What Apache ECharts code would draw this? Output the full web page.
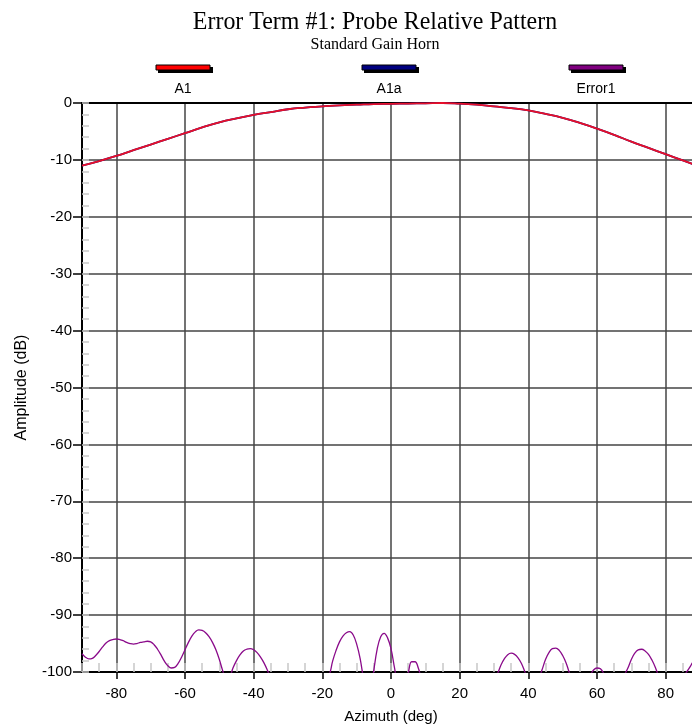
<!DOCTYPE html>
<html>
<head>
<meta charset="utf-8">
<script src="https://cdn.jsdelivr.net/npm/echarts@6/dist/echarts.min.js"></script>
<style>
  html, body { margin: 0; padding: 0; background: #fff; }
  #chart { width: 692px; height: 728px; }
</style>
</head>
<body>
<div id="chart"></div>
<script>
var seriesNames = ['A1', 'A1a', 'Error1'];

// main lobe, every 5 deg
var azA1 = [-90, -85, -80, -75, -70, -65, -60, -55, -50, -45, -40, -35, -30, -25, -20, -15, -10, -5,
  0, 5, 10, 15, 20, 25, 30, 35, 40, 45, 50, 55, 60, 65, 70, 75, 80, 85, 90];
var a1Values = [-11.0, -10.2, -9.3, -8.3, -7.3, -6.3, -5.3, -4.3, -3.4, -2.7, -2.1, -1.6, -1.1, -0.8, -0.6, -0.4, -0.3, -0.2,
  -0.15, -0.1, -0.05, 0, -0.1, -0.3, -0.6, -0.9, -1.3, -1.9, -2.6, -3.5, -4.5, -5.6, -6.8, -7.9, -9.0, -10.1, -11.2];
// A1a lies under A1 in the picture
var a1aValues = a1Values.slice();

// error term, every 1 deg from -90 to 90
var errStart = -90;
var errValues = [
  -96.8, -97.4, -97.7, -97.6, -97.1, -96.4, -95.6, -94.9, -94.5, -94.3,   // -90..-81
  -94.2, -94.3, -94.5, -94.8, -95.0, -95.1, -95.0, -94.8, -94.7, -94.6,   // -80..-71
  -94.7, -95.2, -96.0, -97.0, -98.1, -98.9, -99.3, -99.2, -98.5, -97.4,   // -70..-61
  -96.1, -94.8, -93.7, -92.95, -92.6, -92.7, -93.1, -93.8, -94.8, -96.1,  // -60..-51
  -97.8, -99.8, -101.3, -100.9, -99.25, -98.0, -97.0, -96.3, -96.0, -95.9, // -50..-41
  -96.1, -96.6, -97.4, -98.4, -99.7, -101.2, -103, -104.5, -106, -107,    // -40..-31
  -108, -108, -107.5, -107, -106.5, -106, -105.5, -105, -104, -103,       // -30..-21
  -101.8, -100.9, -100.5, -98.1, -96.2, -94.7, -93.7, -93.1, -92.9, -93.5, // -20..-11
  -95.1, -97.6, -101.2, -104, -104.5, -99.7, -95.9, -93.8, -93.2, -94.0,  // -10..-1
  -95.9, -99.2, -102.5, -104, -102, -100.2, -98.2, -98.2, -99.4, -101.5,  // 0..9
  -103, -105, -107, -108, -109, -110, -110, -110, -109.5, -109,           // 10..19
  -108, -107.5, -107, -106, -105, -104, -103.5, -103, -102.5, -101.8,     // 20..29
  -101.0, -100.3, -98.8, -97.7, -96.96, -96.7, -96.9, -97.5, -98.5, -100.0, // 30..39
  -101.5, -102.5, -102.5, -101.2, -99.6, -97.8, -96.6, -95.9, -95.8, -96.2, // 40..49
  -97.1, -98.4, -100.2, -101.5, -102.5, -103, -102.5, -101.5, -100.6, -99.65, // 50..59
  -99.3, -99.45, -100.3, -101.5, -102.5, -103, -102.5, -101.5, -100.5, -99.3, // 60..69
  -97.8, -96.7, -96.1, -96.0, -96.3, -96.9, -97.9, -99.2, -100.8, -102,   // 70..79
  -103, -103.5, -103.5, -103, -102, -101, -100.1, -99.2, -98.2, -97.5,    // 80..89
  -97.0                                                                   // 90
];

var colors = ['#e8102a', '#000080', '#8a0a8a'];
var legendColors = ['#ff0000', '#000080', '#800080'];
var legendX = [183, 389, 596];

function pairs(xs, ys) {
  return ys.map(function (v, i) { return [xs[i], v]; });
}
var errData = errValues.map(function (v, i) { return [errStart + i, v]; });

var chart = echarts.init(document.getElementById('chart'));

var graphics = [
  { type: 'text', x: 375, y: 35, scaleX: 0.92, style: { text: 'Error Term #1: Probe Relative Pattern', font: '26px "Liberation Serif"', fill: '#000', textAlign: 'center', textVerticalAlign: 'bottom' } },
  { type: 'text', x: 375, y: 53, style: { text: 'Standard Gain Horn', font: '16px "Liberation Serif"', fill: '#000', textAlign: 'center', textVerticalAlign: 'bottom' } }
];
seriesNames.forEach(function (name, i) {
  var cx = legendX[i];
  graphics.push({ type: 'rect', shape: { x: cx - 25, y: 67, width: 55, height: 6 }, style: { fill: '#000' } });
  graphics.push({ type: 'rect', shape: { x: cx - 27, y: 65, width: 54, height: 5 }, style: { fill: legendColors[i], stroke: '#000', lineWidth: 1 } });
  graphics.push({ type: 'text', x: cx, y: 89, style: { text: name, font: '14px "Liberation Sans"', fill: '#000', textAlign: 'center', textVerticalAlign: 'middle' } });
});

var option = {
  animation: false,
  backgroundColor: '#fff',
  graphic: graphics,
  // plot runs past the right edge in the original
  grid: { left: 82, top: 103, width: 618, height: 569, outerBoundsMode: 'none', containLabel: false },
  xAxis: [
    {
      type: 'value', min: -90, max: 90, splitNumber: 9, position: 'bottom',
      name: 'Azimuth (deg)', nameLocation: 'middle', nameGap: 37,
      nameTextStyle: { fontFamily: 'Liberation Sans', fontSize: 15, color: '#000' },
      axisLine: { onZero: false, lineStyle: { color: '#000', width: 2 } },
      axisTick: { length: 7, lineStyle: { color: '#000', width: 1.5 } },
      axisLabel: { margin: 14, showMinLabel: false, showMaxLabel: false, fontFamily: 'Liberation Sans', fontSize: 15, color: '#000' },
      splitLine: { show: true, lineStyle: { color: '#444', width: 1.5 } }
    },
    {
      // minor ticks every 5 deg, drawn inside
      type: 'value', min: -90, max: 90, interval: 5, position: 'bottom',
      axisLine: { show: false, onZero: false },
      axisTick: { show: true, inside: true, length: 9, lineStyle: { color: '#c8c8c8', width: 1.5 } },
      axisLabel: { show: false },
      splitLine: { show: false }
    },
    {
      // top border of the plot
      type: 'value', min: -90, max: 90, interval: 10, position: 'top',
      axisLine: { show: true, onZero: false, lineStyle: { color: '#000', width: 2 } },
      axisTick: { show: false },
      axisLabel: { show: false },
      splitLine: { show: false }
    }
  ],
  yAxis: [
    {
      type: 'value', min: -100, max: 0, interval: 10, position: 'left',
      name: 'Amplitude (dB)', nameLocation: 'middle', nameGap: 52, nameRotate: 90,
      nameTextStyle: { fontFamily: 'Liberation Sans', fontSize: 16, color: '#000' },
      axisLine: { show: true, onZero: false, lineStyle: { color: '#000', width: 2 } },
      axisTick: { show: true, length: 9, lineStyle: { color: '#000', width: 1.5 } },
      axisLabel: { margin: 10, fontFamily: 'Liberation Sans', fontSize: 15, color: '#000' },
      splitLine: { show: true, lineStyle: { color: '#444', width: 1.5 } }
    },
    {
      // minor ticks every 2 dB, drawn inside
      type: 'value', min: -100, max: 0, interval: 2, position: 'left',
      axisLine: { show: false, onZero: false },
      axisTick: { show: true, inside: true, length: 7, lineStyle: { color: '#c8c8c8', width: 1.5 } },
      axisLabel: { show: false },
      splitLine: { show: false }
    }
  ],
  series: [
    {
      name: 'A1a', type: 'line', data: pairs(azA1, a1aValues), smooth: true, showSymbol: false,
      lineStyle: { color: colors[1], width: 1.8 }, clip: true, z: 3
    },
    {
      name: 'A1', type: 'line', data: pairs(azA1, a1Values), smooth: true, showSymbol: false,
      lineStyle: { color: colors[0], width: 1.8 }, clip: true, z: 4
    },
    {
      name: 'Error1', type: 'line', data: errData, smooth: 0.4, showSymbol: false,
      lineStyle: { color: colors[2], width: 1.3 }, clip: true, z: 4
    }
  ]
};

chart.setOption(option);

window.addEventListener('resize', function () {
  chart.resize();
});
</script>
</body>
</html>
